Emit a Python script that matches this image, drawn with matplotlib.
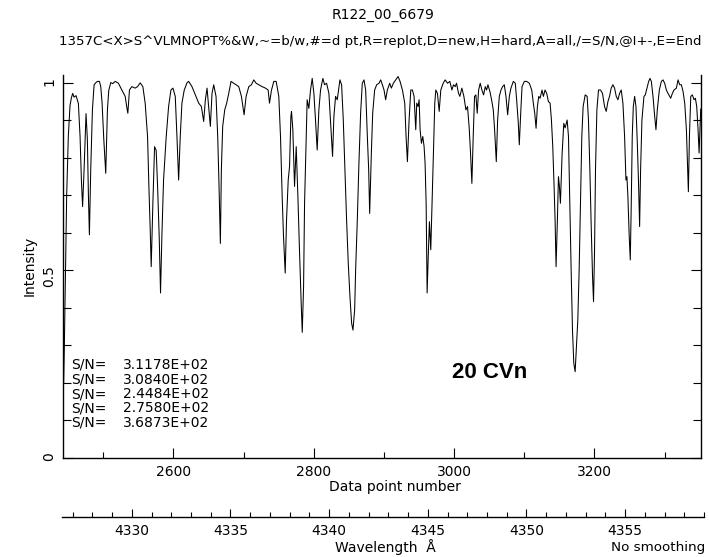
import matplotlib

matplotlib.use("Agg")
import matplotlib.pyplot as plt
from matplotlib.ticker import FixedLocator, FuncFormatter, MultipleLocator

# spectrum: data point number vs. normalised intensity
pixel = [
    2443.5, 2444.5, 2445.5, 2447.8, 2450.2, 2452.6, 2454.5, 2456.4, 2458.3, 2461.2,
    2463.0, 2464.5, 2466.9, 2468.8, 2470.5, 2472.6, 2475.4, 2477.3, 2478.8, 2480.2,
    2482.1, 2484.5, 2486.9, 2489.7, 2491.6, 2494.5, 2496.4, 2498.3, 2500.7, 2503.5,
    2505.9, 2507.8, 2510.7, 2513.5, 2516.9, 2521.6, 2526.4, 2531.2, 2533.5, 2535.0,
    2537.3, 2540.7, 2545.4, 2548.8, 2552.6, 2556.4, 2559.7, 2563.1, 2565.0, 2566.9,
    2568.3, 2570.7, 2573.1, 2575.4, 2577.4, 2579.7, 2581.6, 2583.5, 2585.9, 2589.7,
    2593.1, 2596.4, 2599.3, 2602.6, 2605.0, 2607.4, 2609.7, 2612.1, 2615.4, 2619.3,
    2621.7, 2626.4, 2631.2, 2636.0, 2639.8, 2643.1, 2645.5, 2647.9, 2650.2, 2652.6,
    2655.0, 2657.4, 2660.7, 2663.1, 2665.0, 2666.9, 2668.3, 2670.2, 2673.1, 2675.9,
    2678.8, 2682.1, 2685.9, 2689.3, 2693.1, 2696.9, 2700.7, 2703.6, 2707.4, 2711.2,
    2714.5, 2717.9, 2721.7, 2726.4, 2731.2, 2735.0, 2736.9, 2739.8, 2743.1, 2746.4,
    2750.2, 2752.6, 2755.0, 2756.9, 2759.3, 2761.2, 2763.6, 2765.5, 2767.4, 2768.3,
    2770.2, 2772.6, 2775.0, 2777.4, 2779.8, 2782.1, 2783.6, 2785.5, 2786.9, 2789.3,
    2790.6, 2793.0, 2795.4, 2797.8, 2800.2, 2802.5, 2804.9, 2807.3, 2809.7, 2813.0,
    2815.4, 2818.3, 2821.6, 2824.0, 2826.8, 2828.7, 2831.1, 2833.5, 2837.3, 2839.7,
    2842.1, 2844.4, 2846.8, 2849.2, 2851.6, 2854.0, 2855.9, 2858.3, 2859.7, 2862.1,
    2864.4, 2866.8, 2869.2, 2871.6, 2874.0, 2876.4, 2878.3, 2879.7, 2882.1, 2884.0,
    2886.8, 2889.7, 2893.0, 2895.4, 2897.8, 2900.2, 2902.5, 2904.9, 2908.3, 2910.6,
    2913.5, 2916.8, 2920.2, 2923.0, 2926.4, 2929.7, 2931.6, 2933.5, 2935.9, 2938.3,
    2940.6, 2943.0, 2945.4, 2946.8, 2948.7, 2950.2, 2951.6, 2953.5, 2955.4, 2957.3,
    2958.7, 2960.2, 2961.6, 2963.5, 2964.9, 2966.8, 2968.7, 2970.6, 2972.5, 2974.0,
    2976.3, 2978.8, 2981.1, 2984.5, 2987.3, 2990.7, 2994.0, 2996.9, 2999.2, 3001.6,
    3003.5, 3006.4, 3008.3, 3011.1, 3014.0, 3016.9, 3019.2, 3021.6, 3023.5, 3025.4,
    3027.3, 3029.2, 3031.1, 3033.0, 3035.0, 3037.3, 3039.7, 3042.1, 3044.5, 3046.4,
    3048.3, 3051.1, 3053.5, 3055.9, 3057.8, 3060.2, 3062.1, 3064.5, 3066.9, 3069.2,
    3071.6, 3074.0, 3076.4, 3078.8, 3081.1, 3084.5, 3087.3, 3089.2, 3091.6, 3093.0,
    3095.0, 3096.9, 3100.2, 3103.5, 3107.3, 3110.7, 3113.0, 3115.0, 3116.9, 3118.8,
    3120.7, 3122.6, 3125.4, 3127.3, 3129.7, 3132.1, 3134.5, 3136.9, 3138.8, 3140.7,
    3142.6, 3144.0, 3145.4, 3147.3, 3148.8, 3150.2, 3151.6, 3154.0, 3156.4, 3158.3,
    3161.2, 3163.1, 3165.0, 3166.9, 3168.8, 3170.7, 3172.6, 3174.5, 3176.4, 3178.3,
    3180.2, 3182.1, 3184.0, 3186.9, 3189.7, 3191.6, 3193.6, 3195.5, 3197.4, 3198.8,
    3200.2, 3201.6, 3203.6, 3205.9, 3208.8, 3211.6, 3214.5, 3216.9, 3219.3, 3221.6,
    3224.0, 3226.4, 3228.8, 3231.2, 3233.6, 3235.9, 3238.3, 3240.7, 3243.1, 3245.0,
    3246.4, 3247.8, 3249.7, 3251.2, 3252.6, 3254.0, 3255.5, 3257.4, 3259.3, 3261.2,
    3263.1, 3264.5, 3265.9, 3267.8, 3270.7, 3272.6, 3275.5, 3277.4, 3279.3, 3281.2,
    3283.6, 3286.0, 3287.8, 3289.7, 3292.6, 3295.5, 3297.8, 3300.2, 3302.6, 3305.0,
    3308.8, 3311.2, 3313.5, 3316.9, 3319.3, 3321.6, 3324.0, 3326.4, 3328.8, 3331.2,
    3332.6, 3334.0, 3335.5, 3337.4, 3339.7, 3342.1, 3344.0, 3345.9, 3347.8, 3349.3,
    3350.7, 3351.6,
]
intensity = [
    0.20, 0.30, 0.42, 0.70, 0.86, 0.94, 0.96, 0.972, 0.962, 0.966,
    0.955, 0.945, 0.857, 0.741, 0.670, 0.768, 0.918, 0.85, 0.70, 0.595,
    0.768, 0.928, 0.995, 1.001, 1.004, 1.004, 0.99, 0.946, 0.85, 0.759,
    0.928, 0.98, 1.001, 0.998, 1.004, 0.999, 0.981, 0.964, 0.935, 0.919,
    0.981, 0.99, 0.986, 0.99, 1.0, 0.99, 0.946, 0.857, 0.724, 0.608,
    0.51, 0.68, 0.83, 0.82, 0.724, 0.59, 0.44, 0.59, 0.741, 0.857,
    0.937, 0.981, 0.986, 0.964, 0.857, 0.741, 0.857, 0.946, 0.981, 1.0,
    1.004, 0.99, 0.968, 0.946, 0.937, 0.897, 0.955, 0.986, 0.937, 0.884,
    0.972, 0.995, 0.964, 0.857, 0.724, 0.572, 0.768, 0.884, 0.928, 0.946,
    0.972, 1.004, 0.999, 0.995, 0.99, 0.964, 0.915, 0.964, 0.99, 0.995,
    1.008, 0.999, 0.995, 0.99, 0.986, 0.981, 0.946, 0.981, 1.004, 1.004,
    0.964, 0.857, 0.697, 0.590, 0.493, 0.635, 0.741, 0.777, 0.91, 0.924,
    0.875, 0.724, 0.83, 0.697, 0.546, 0.412, 0.335, 0.457, 0.679, 0.857,
    0.955, 0.932, 0.981, 1.012, 0.972, 0.901, 0.821, 0.928, 0.981, 1.012,
    0.995, 0.999, 0.972, 0.893, 0.804, 0.91, 0.964, 0.955, 1.008, 0.995,
    0.901, 0.768, 0.635, 0.519, 0.43, 0.359, 0.341, 0.395, 0.501, 0.635,
    0.786, 0.919, 0.999, 1.008, 0.981, 0.857, 0.768, 0.652, 0.812, 0.919,
    0.981, 0.995, 0.999, 1.008, 0.995, 0.981, 0.955, 0.981, 0.999, 0.986,
    0.999, 1.008, 1.017, 1.004, 0.981, 0.946, 0.857, 0.79, 0.901, 0.981,
    0.981, 0.964, 0.875, 0.946, 0.937, 0.955, 0.875, 0.839, 0.857, 0.83,
    0.786, 0.679, 0.44, 0.555, 0.63, 0.555, 0.679, 0.813, 0.946, 0.981,
    0.972, 0.924, 0.981, 0.999, 1.008, 0.999, 1.004, 0.981, 0.995, 0.99,
    0.999, 0.972, 0.964, 0.986, 0.964, 0.928, 0.937, 0.879, 0.812, 0.732,
    0.857, 0.964, 0.968, 0.919, 0.981, 0.999, 0.981, 0.968, 0.99, 0.981,
    0.995, 0.977, 0.955, 0.928, 0.875, 0.79, 0.901, 0.964, 0.981, 0.99,
    0.995, 0.964, 0.915, 0.964, 0.986, 1.004, 0.999, 0.955, 0.892, 0.835,
    0.919, 0.99, 1.004, 1.004, 0.999, 0.981, 0.946, 0.919, 0.879, 0.937,
    0.964, 0.959, 0.981, 0.964, 0.981, 0.972, 0.95, 0.946, 0.901, 0.83,
    0.724, 0.635, 0.51, 0.635, 0.75, 0.724, 0.679, 0.81, 0.892, 0.88,
    0.901, 0.857, 0.679, 0.501, 0.341, 0.252, 0.23, 0.297, 0.368, 0.501,
    0.679, 0.857, 0.937, 0.968, 0.964, 0.901, 0.768, 0.617, 0.484, 0.417,
    0.546, 0.768, 0.928, 0.981, 0.981, 0.972, 0.937, 0.924, 0.95, 0.964,
    0.986, 0.995, 0.986, 0.964, 0.955, 0.972, 0.981, 0.946, 0.857, 0.741,
    0.75, 0.697, 0.59, 0.528, 0.679, 0.857, 0.937, 0.964, 0.937, 0.84,
    0.724, 0.617, 0.768, 0.901, 0.964, 0.968, 0.99, 1.004, 1.012, 1.004,
    0.964, 0.91, 0.875, 0.928, 0.981, 1.004, 1.008, 0.999, 0.981, 0.972,
    0.959, 0.972, 0.981, 0.986, 1.008, 0.995, 0.995, 0.977, 0.946, 0.875,
    0.795, 0.71, 0.857, 0.964, 0.968, 0.955, 0.959, 0.937, 0.875, 0.813,
    0.884, 0.93,
]
assert len(pixel) == len(intensity)

sn_values = ["3.1178E+02", "3.0840E+02", "2.4484E+02", "2.7580E+02", "3.6873E+02"]
y_ticks = [0, 0.5, 1]

x_lim = (2443, 3352)
y_lim = (0, 1.021)
wl_lim = (4326.46, 4359.0)

title = "R122_00_6679"
menu = "1357C<X>S^VLMNOPT%&W,~=b/w,#=d pt,R=replot,D=new,H=hard,A=all,/=S/N,@I+-,E=End"
star = "20 CVn"

W, H = 709, 557
FS = 10


def fx(x):
    return x / W


def fy(y):
    return 1 - y / H


fig = plt.figure(figsize=(W / 100, H / 100), dpi=100)

ax = fig.add_axes([fx(63.3), fy(458), fx(701) - fx(63.3), fy(75) - fy(458)])
ax.plot(pixel, intensity, color="black", lw=0.75)
ax.set_xlim(*x_lim)
ax.set_ylim(*y_lim)
ax.spines["top"].set_visible(False)
for s in ax.spines.values():
    s.set_linewidth(1.0)

ax.xaxis.set_major_locator(MultipleLocator(200))
ax.xaxis.set_minor_locator(MultipleLocator(100))
ax.yaxis.set_major_locator(FixedLocator(y_ticks))
ax.yaxis.set_minor_locator(MultipleLocator(0.1))
ax.yaxis.set_major_formatter(FuncFormatter(lambda v, _: f"{v:g}"))
ax.tick_params(which="both", direction="in", right=True, top=False,
               labelsize=FS, width=0.8)
ax.tick_params(axis="x", which="major", length=7, pad=5)
ax.tick_params(axis="x", which="minor", length=4)
ax.tick_params(axis="y", which="major", length=7, pad=5, labelrotation=90)
ax.tick_params(axis="y", which="minor", length=6)

# wavelength scale below the main axis
ax2 = fig.add_axes([fx(62), fy(517), fx(704) - fx(62), 0.0005])
ax2.set_xlim(*wl_lim)
ax2.set_yticks([])
for side in ("left", "right", "top"):
    ax2.spines[side].set_visible(False)
ax2.spines["bottom"].set_linewidth(1.0)
ax2.patch.set_visible(False)
ax2.xaxis.set_major_locator(MultipleLocator(5))
ax2.xaxis.set_minor_locator(MultipleLocator(1))
ax2.tick_params(axis="x", which="both", direction="in", labelsize=FS, width=0.8)
ax2.tick_params(axis="x", which="major", length=6, pad=5)
ax2.tick_params(axis="x", which="minor", length=3.5)

fig.text(fx(383), fy(15), title, ha="center", va="center", fontsize=FS)
fig.text(fx(380), fy(42), menu, ha="center", va="center", fontsize=9.6)
fig.text(fx(30), fy(266), "Intensity", ha="center", va="center",
         rotation=90, fontsize=FS)
fig.text(fx(395), fy(487), "Data point number", ha="center", va="center", fontsize=FS)
fig.text(fx(385), fy(547), "Wavelength  Å", ha="center", va="center", fontsize=FS)
fig.text(fx(705), fy(547), "No smoothing", ha="right", va="center", fontsize=9.7)

for i, val in enumerate(sn_values):
    y = 365 + 14.5 * i
    fig.text(fx(71), fy(y), "S/N=", ha="left", va="center", fontsize=FS)
    fig.text(fx(123), fy(y), val, ha="left", va="center", fontsize=FS)

fig.text(fx(490), fy(373), star, ha="center", va="center", fontsize=16,
         fontweight="bold", family="Liberation Sans")

fig.savefig("out.png", dpi=100)
